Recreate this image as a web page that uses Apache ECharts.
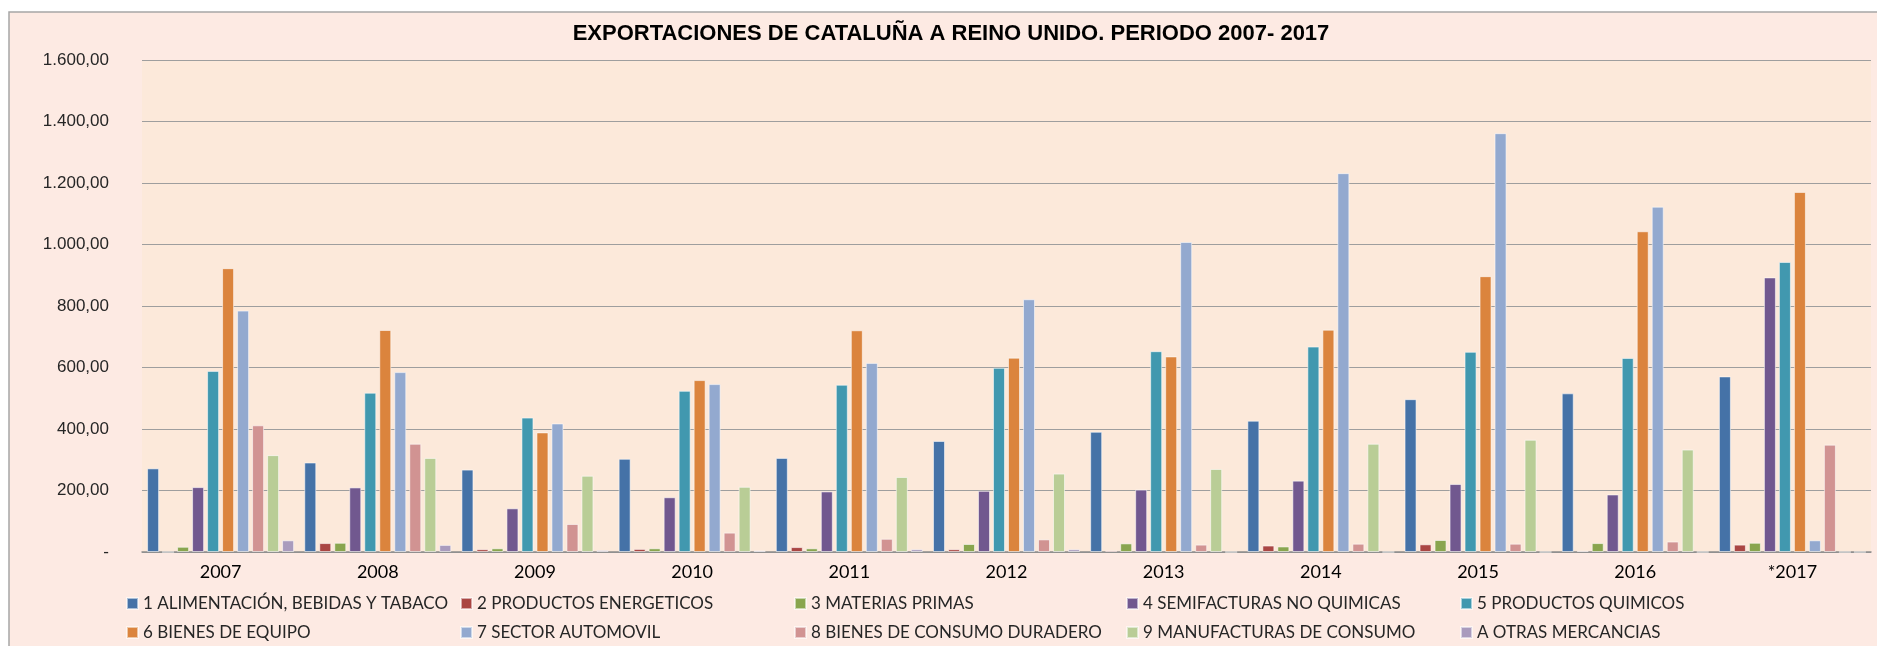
<!DOCTYPE html>
<html>
<head>
<meta charset="utf-8">
<script src="https://cdn.jsdelivr.net/npm/echarts@6/dist/echarts.min.js"></script>
<style>
    html, body { margin: 0; padding: 0; background: #fff; }
    #chart { width: 1877px; height: 646px; }
</style>
</head>
<body>
<div id="chart"></div>
<script>
// años (el último es provisional)
var years = ['2007', '2008', '2009', '2010', '2011', '2012', '2013', '2014', '2015', '2016', '*2017'];

var names = [
    '1 ALIMENTACIÓN, BEBIDAS Y TABACO',
    '2 PRODUCTOS ENERGETICOS',
    '3 MATERIAS PRIMAS',
    '4 SEMIFACTURAS NO QUIMICAS',
    '5 PRODUCTOS QUIMICOS',
    '6 BIENES DE EQUIPO',
    '7 SECTOR AUTOMOVIL',
    '8 BIENES DE CONSUMO DURADERO',
    '9 MANUFACTURAS DE CONSUMO',
    'A OTRAS MERCANCIAS'
];

var alimentacion = [272, 291, 268, 303, 306, 361, 391, 427, 497, 516, 571];
var energeticos = [0, 29, 9, 10, 16, 9, 5, 21, 25, 4, 24];
var materiasPrimas = [17, 30, 12, 12, 12, 26, 28, 18, 39, 29, 30];
var semifacturas = [211, 210, 142, 178, 197, 199, 203, 232, 221, 187, 893];
var quimicos = [589, 518, 437, 524, 544, 599, 653, 668, 651, 631, 943];
var bienesEquipo = [923, 722, 389, 559, 721, 632, 636, 723, 897, 1043, 1171];
var automovil = [785, 585, 418, 546, 615, 822, 1008, 1232, 1362, 1123, 38];
var consumoDuradero = [412, 352, 91, 63, 43, 41, 24, 27, 27, 34, 349];
var manufacturas = [315, 306, 248, 212, 244, 255, 270, 352, 365, 333, 0];
var otras = [38, 23, 6, 5, 9, 9, 0, 0, 0, 0, 0];

var yTicks = [0, 200, 400, 600, 800, 1000, 1200, 1400, 1600];

var colors = ['#4572A7', '#AA4643', '#89A54E', '#71588F', '#4198AF',
    '#DB843D', '#93A9CF', '#D19392', '#B9CD96', '#A99BBD'];

var allData = [alimentacion, energeticos, materiasPrimas, semifacturas, quimicos,
    bienesEquipo, automovil, consumoDuradero, manufacturas, otras];

var labelFont = "Lato, 'Liberation Sans', Arial, sans-serif";

// 1600 -> "1.600,00", 0 -> "-"
function fmtEs(v) {
    if (v === 0) return '-';
    var s = String(Math.round(v));
    var out = '';
    while (s.length > 3) {
        out = '.' + s.slice(-3) + out;
        s = s.slice(0, -3);
    }
    return s + out + ',00';
}

var series = [];
for (var i = 0; i < allData.length; i++) {
    series.push({
        name: names[i],
        type: 'bar',
        data: allData[i],
        barWidth: 12,
        barGap: '25%',
        itemStyle: {
            color: colors[i],
            borderColor: 'rgba(255,255,255,0.55)',
            borderWidth: 1
        },
        emphasis: { disabled: true }
    });
}

// una leyenda por elemento, en columnas fijas como en Excel
var legendCols = [126, 460, 794, 1126, 1460];
var legendRows = [595, 624];
var legends = [];
for (var k = 0; k < names.length; k++) {
    legends.push({
        data: [names[k]],
        left: legendCols[k % 5],
        top: legendRows[Math.floor(k / 5)],
        padding: 0,
        itemWidth: 11,
        itemHeight: 11,
        icon: 'rect',
        selectedMode: false,
        textStyle: {
            fontFamily: labelFont,
            fontSize: 17,
            color: '#262626'
        }
    });
}

var ele = document.getElementById('chart');
var myChart = echarts.init(ele);

var option = {
    animation: false,
    backgroundColor: '#FDEAE3',
    color: colors,
    title: {
        text: 'EXPORTACIONES DE CATALUÑA A REINO UNIDO. PERIODO 2007- 2017',
        left: 951,
        textAlign: 'center',
        top: 23,
        padding: 0,
        textStyle: {
            fontFamily: "'Liberation Sans', Arial, sans-serif",
            fontWeight: 'bold',
            fontSize: 22,
            color: '#000'
        }
    },
    legend: legends,
    graphic: {
        elements: [
            { type: 'rect', left: 0, top: 0, shape: { width: 1877, height: 12 }, style: { fill: '#fff' } },
            { type: 'rect', left: 0, top: 0, shape: { width: 9, height: 646 }, style: { fill: '#fff' } },
            { type: 'polyline', shape: { points: [[9, 646], [9, 12], [1877, 12]] }, style: { stroke: '#A6A6A6', lineWidth: 1.5, fill: null } }
        ]
    },
    grid: {
        left: 142,
        right: 6,
        top: 60,
        bottom: 94,
        show: true,
        backgroundColor: '#FCE9DA',
        borderWidth: 0
    },
    xAxis: {
        type: 'category',
        data: years,
        axisTick: { show: false },
        axisLine: { lineStyle: { color: '#8C8C8C', width: 1.5 } },
        axisLabel: {
            margin: 11,
            fontFamily: labelFont,
            fontSize: 18,
            color: '#000'
        }
    },
    yAxis: {
        type: 'value',
        min: yTicks[0],
        max: yTicks[yTicks.length - 1],
        interval: yTicks[1] - yTicks[0],
        axisLine: { show: false },
        axisTick: { show: false },
        splitLine: { lineStyle: { color: '#9E9E9E', width: 1.2 } },
        axisLabel: {
            margin: 33,
            formatter: fmtEs,
            fontFamily: "'Liberation Sans', Arial, sans-serif",
            fontSize: 17,
            color: '#262626'
        }
    },
    series: series
};

myChart.setOption(option);
</script>
</body>
</html>
